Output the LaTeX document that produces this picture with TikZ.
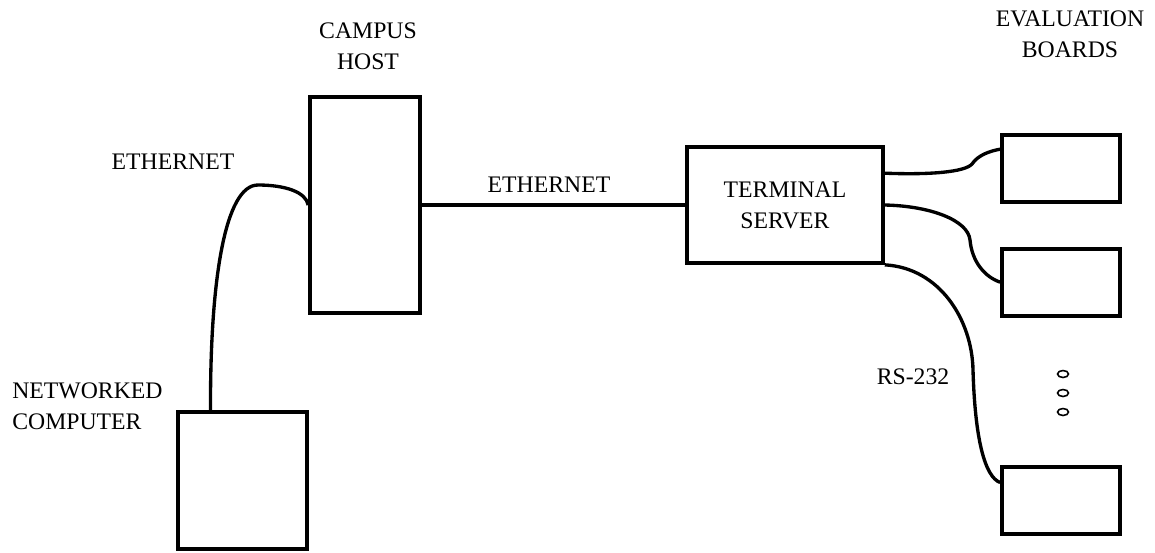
\documentclass[tikz,border=0pt]{standalone}
\usepackage{fontspec}
\setmainfont{Liberation Serif}
\usetikzlibrary{positioning,calc}
\tikzset{
  unit/.style={rectangle, draw, line width=2.1pt, inner sep=0pt},
  board/.style={unit, minimum width=2.36cm, minimum height=1.34cm},
  cable/.style={line width=1.9pt},
  tag/.style={font=\fontsize{13.5}{17.5}\selectfont, inner sep=0pt, align=center},
}

\begin{document}
\begin{tikzpicture}[x=0.02cm, y=-0.02cm]
  \useasboundingbox (0,0) rectangle (1155,552);

  % Boxes
  \node[unit, minimum width=2.2cm, minimum height=4.32cm] (host) at (365,205) {};
  \node[unit, minimum width=2.58cm, minimum height=2.74cm] (pc) at (242.5,480.5) {};
  \node[unit, tag, minimum width=3.92cm, minimum height=2.32cm] (ts) at (785,205) {TERMINAL\\SERVER};
  \node[board] (b1) at (1061,168.5) {};
  \node[board, below=0.86cm of b1] (b2) {};
  \node[board, below=2.96cm of b2] (b3) {};

  % Labels
  \node[tag] (lhost) at (368,46) {CAMPUS\\HOST};
  \node[tag] (lboards) at (1070,34) {EVALUATION\\BOARDS};
  \node[tag] (leth1) at (173,162) {ETHERNET};
  \node[tag] (leth2) at (549,185) {ETHERNET};
  \node[tag, anchor=west, align=left] (lpc) at (12,406) {NETWORKED\\COMPUTER};
  \node[tag] (lrs) at (913,377) {RS-232};

  % Ethernet cables
  \draw[cable] ($(pc.north)+(-32,0)$) .. controls (210,280) and (225,185) .. (258,185)
    .. controls (285,185) and (306,192) .. (host.west);
  \draw[cable] (host.east) -- (ts.west);

  % RS-232 cables
  \draw[cable] ($(ts.north east)+(0,28)$) .. controls (930,175) and (965,172) .. (972,164)
    .. controls (978,155) and (990,151) .. ($(b1.north west)+(0,16)$);
  \draw[cable] (ts.east) .. controls (930,206) and (968,220) .. (970,240)
    .. controls (972,262) and (985,277) .. (b2.west);
  \draw[cable] (ts.south east) .. controls (940,268) and (972,320) .. (973,370)
    .. controls (975,440) and (985,477) .. ($(b3.north west)+(0,17)$);

  % more boards
  \foreach \y in {374,393,412}
    \draw[line width=0.9pt] (1063,\y) ellipse [x radius=0.11cm, y radius=0.07cm];
\end{tikzpicture}
\end{document}
